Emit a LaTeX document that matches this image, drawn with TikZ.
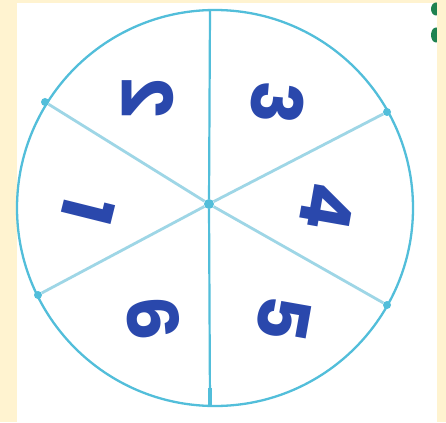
\documentclass[tikz,border=0pt]{standalone}
\usepackage{fontspec}
\newfontfamily\handfont{Poppins}
\usetikzlibrary{positioning}
\definecolor{paper}{RGB}{255,243,208}
\definecolor{rimblue}{RGB}{82,190,218}
\definecolor{spokeblue}{RGB}{158,214,230}
\definecolor{inkblue}{RGB}{42,72,172}
\definecolor{markgreen}{RGB}{30,130,80}
\tikzset{
  rimline/.style={draw=rimblue, line width=2.3pt},
  spoke/.style={draw=spokeblue, line width=2.8pt},
  mainspoke/.style={draw=rimblue, line width=2.2pt},
  pin/.style={circle, fill=rimblue, inner sep=0pt, minimum size=8pt},
  digit/.style={text=inkblue, font=\handfont\bfseries\fontsize{70}{70}\selectfont, inner sep=0pt}
}
\begin{document}
\begin{tikzpicture}[x=1pt, y=-1pt]
  \useasboundingbox (0,0) rectangle (446,422);
  \fill[paper] (0,0) rectangle (446,422);
  \fill[white] (17,3) rectangle (437,422);
  % marks cut off at the right edge
  \fill[markgreen] (436,9) ellipse (5 and 6.5);
  \fill[markgreen] (436,35) ellipse (5 and 7.5);
  \fill[paper] (437,0) rectangle (446,422);
  % rim of the spinner
  \draw[rimline] (215,208) circle (198);
  % hub and rim points
  \node[pin, minimum size=10pt] (hub) at (209,204) {};
  \coordinate (top) at (210,10);
  \coordinate (bottom) at (210,406);
  \coordinate (bottomend) at (210,388);
  \node[pin] (ul) at (45,102) {};
  \node[pin] (ur) at (387,112) {};
  \node[pin] (ll) at (38,295) {};
  \node[pin] (lr) at (387,305) {};
  \draw[spoke] (hub) -- (ul);
  \draw[spoke] (hub) -- (ur);
  \draw[spoke] (hub) -- (ll);
  \draw[spoke] (hub) -- (lr);
  \draw[mainspoke] (hub) -- (top);
  \draw[mainspoke] (hub) -- (bottom);
  \draw[mainspoke, line width=4pt] (bottomend) -- (bottom);
  % numbers
  \node[digit, rotate=-104] (n1) at (88,210) {1};
  \node[digit, rotate=-90, xscale=-1] (n2) at (148,99) {2};
  \node[digit, rotate=-95] (n3) at (277,103) {3};
  \node[digit, rotate=-100] (n4) at (327,207) {4};
  \node[digit, rotate=-100] (n5) at (284,318) {5};
  \node[digit, rotate=-85] (n6) at (153,318) {6};
\end{tikzpicture}
\end{document}
